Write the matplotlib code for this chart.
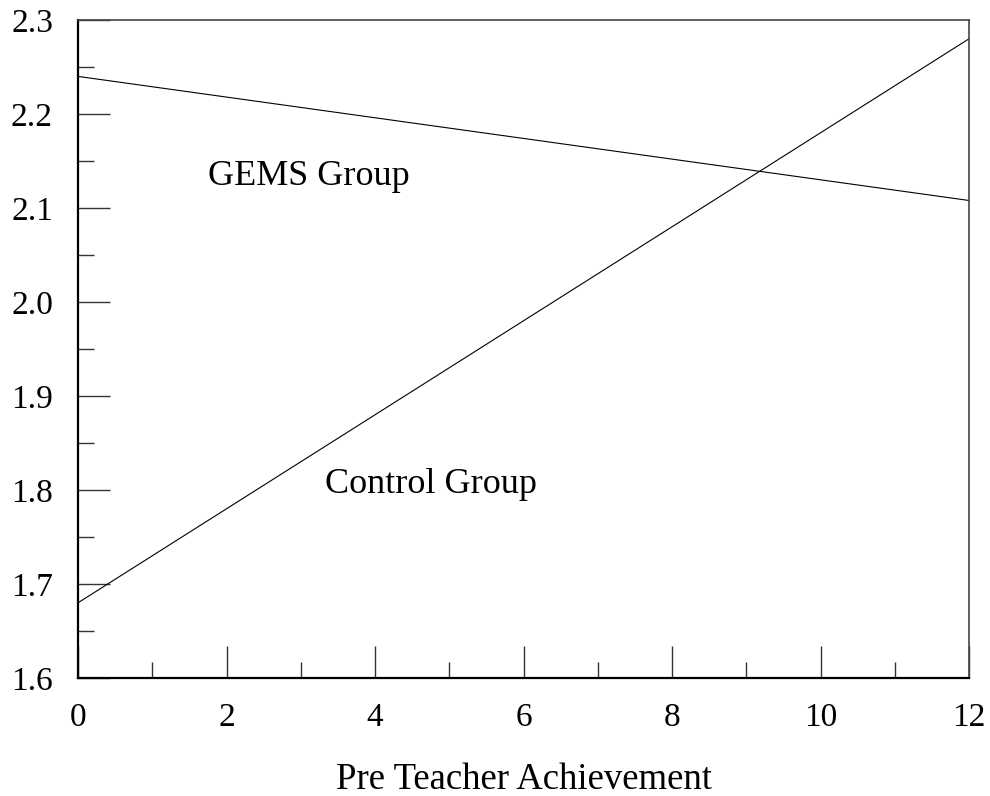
import matplotlib.pyplot as plt
from matplotlib.ticker import MultipleLocator

plt.rcParams['font.family'] = ['Liberation Serif', 'DejaVu Serif']

# regression lines
x = [0, 12]
gems = [2.24, 2.108]
control = [1.68, 2.28]

xticks = [0, 2, 4, 6, 8, 10, 12]
yticks = [1.6, 1.7, 1.8, 1.9, 2.0, 2.1, 2.2, 2.3]

fig = plt.figure(figsize=(9.9, 7.96), dpi=100)
ax = fig.add_axes([78 / 990, 1 - 678 / 796, 891 / 990, 658 / 796])

ax.plot(x, gems, color='black', lw=0.8)
ax.plot(x, control, color='black', lw=0.8)

ax.text(1.75, 2.134, 'GEMS Group', fontsize=26, va='center', ha='left')
ax.text(3.33, 1.806, 'Control Group', fontsize=26, va='center', ha='left')

ax.set_xlim(0, 12)
ax.set_ylim(1.6, 2.3)
ax.set_xticks(xticks)
ax.set_yticks(yticks)
ax.set_yticklabels([f'{v:.1f}' for v in yticks])
ax.xaxis.set_minor_locator(MultipleLocator(1))
ax.yaxis.set_minor_locator(MultipleLocator(0.05))

ax.tick_params(which='both', direction='in', top=False, right=False, labelsize=24, width=1, color='#333333')
ax.tick_params(which='major', length=23, pad=18)
ax.tick_params(which='minor', length=11.5)

for s in ax.spines.values():
    s.set_linewidth(1.2)
    s.set_color('#444444')
ax.spines['left'].set_color('black')
ax.spines['bottom'].set_color('black')
ax.spines['left'].set_linewidth(1.6)
ax.spines['bottom'].set_linewidth(1.6)

ax.set_xlabel('Pre Teacher Achievement', fontsize=26.5, labelpad=21)

fig.savefig('out.png', dpi=100)
